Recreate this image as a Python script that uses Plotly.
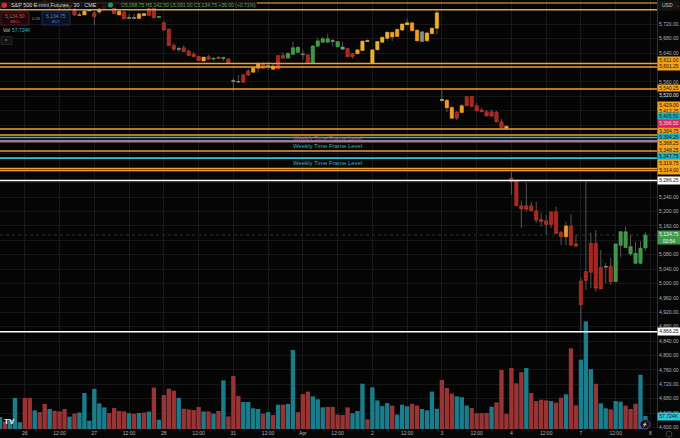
import plotly.graph_objects as go

WIDTH, HEIGHT = 680, 438
PLOT_W, PLOT_H = 657, 429

opens = [
    5766, 5770, 5772, 5768, 5770, 5766, 5768, 5772, 5776, 5786,
    5770, 5768, 5765, 5766, 5772, 5762, 5745, 5757, 5757, 5752,
    5762, 5774, 5776, 5765, 5756, 5754, 5737, 5737, 5749, 5750,
    5764, 5764, 5740, 5724, 5707, 5662, 5651, 5655, 5646, 5637,
    5631, 5629, 5630, 5624, 5627, 5626, 5624, 5562, 5560, 5580,
    5590, 5599, 5610, 5610, 5604, 5604, 5633, 5634, 5626, 5636,
    5642, 5636, 5635, 5612, 5659, 5670, 5670, 5673, 5657, 5651,
    5653, 5639, 5649, 5647, 5673, 5612, 5649, 5670, 5681, 5698,
    5706, 5704, 5719, 5724, 5704, 5672, 5674, 5694, 5709, 5511,
    5509, 5489, 5476, 5494, 5519, 5520, 5494, 5482, 5477, 5477,
    5476, 5449, 5437, 5293, 5285, 5216, 5216, 5216, 5202, 5178,
    5174, 5199, 5199, 5142, 5160, 5160, 5110, 5007, 5033, 5112,
    5112, 5045, 5046, 5048, 5005, 5106, 5100, 5082, 5056, 5056, 5098.75,
]
highs = [
    5774, 5776, 5775, 5773, 5772, 5772, 5776, 5778, 5782, 5787,
    5772, 5774, 5771, 5773, 5774, 5765, 5754, 5760, 5762, 5757,
    5765, 5776, 5779, 5768, 5760, 5757, 5749, 5749, 5751, 5751,
    5768, 5765, 5743, 5729, 5707, 5668, 5658, 5662, 5649, 5643,
    5632, 5629, 5635, 5629, 5632, 5630, 5626, 5571, 5579, 5582,
    5596, 5604, 5615, 5615, 5616, 5612, 5635, 5642, 5643, 5672,
    5660, 5649, 5637, 5662, 5682, 5685, 5693, 5679, 5674, 5672,
    5654, 5640, 5651, 5676, 5678, 5649, 5674, 5685, 5699, 5699,
    5707, 5721, 5737, 5726, 5704, 5701, 5699, 5712, 5760, 5537,
    5512, 5493, 5479, 5499, 5521, 5521, 5501, 5487, 5482, 5482,
    5479, 5457, 5437.5, 5310, 5285, 5230, 5280, 5227, 5227, 5197,
    5190, 5199, 5213, 5146, 5172, 5192, 5135, 5017, 5283, 5141,
    5149, 5093, 5057, 5071, 5110, 5146, 5158, 5135, 5116, 5117, 5142.5,
]
lows = [
    5763, 5768, 5766, 5765, 5764, 5765, 5766, 5770, 5775, 5777,
    5764, 5766, 5763, 5764, 5764, 5743, 5744, 5746, 5757, 5718,
    5749, 5765, 5765, 5749, 5746, 5735, 5735, 5735, 5735, 5743,
    5743, 5737, 5740, 5701, 5660, 5646, 5643, 5643, 5632, 5629,
    5618, 5618, 5621, 5619, 5624, 5618, 5611, 5533, 5558, 5557,
    5576, 5585, 5586, 5596, 5593, 5593, 5596, 5624, 5626, 5635,
    5640, 5621, 5612, 5611, 5657, 5668, 5668, 5658, 5657, 5649,
    5629, 5625, 5637, 5646, 5671, 5611, 5649, 5668, 5674, 5674,
    5685, 5701, 5718, 5701, 5672, 5671, 5672, 5693, 5691, 5505,
    5476, 5458, 5454, 5473, 5493, 5490, 5479, 5476, 5465, 5462,
    5449, 5432, 5430, 5246, 5215, 5154, 5199, 5201, 5169, 5158,
    5135, 5154, 5139, 5107, 5107, 5104, 5100.5, 4865, 4982, 4987,
    4977, 4985, 5001, 4996, 5004, 5073, 5099, 5076, 5054, 5054, 5091,
]
closes = [
    5770, 5773, 5768, 5771, 5766, 5770, 5773, 5776, 5779, 5779,
    5766, 5772, 5769, 5771, 5766, 5746, 5746, 5746, 5760, 5741,
    5754, 5765, 5768, 5749, 5746, 5735, 5738, 5738, 5736, 5744,
    5745, 5738, 5741, 5704, 5661, 5651, 5652, 5644, 5633, 5630,
    5619, 5618, 5623, 5625, 5626, 5627, 5612, 5563, 5561, 5559,
    5579, 5587, 5598, 5597, 5605, 5595, 5596, 5626, 5639, 5655,
    5656, 5637, 5613, 5660, 5674, 5680, 5680, 5674, 5672, 5657,
    5630, 5630, 5638, 5673, 5674, 5649, 5672, 5684, 5698, 5685,
    5686, 5721, 5724, 5702, 5674, 5699, 5696, 5709, 5752, 5509,
    5488, 5459, 5459, 5475, 5494, 5492, 5479, 5477, 5465, 5465,
    5449, 5433, 5431, 5283, 5216, 5207, 5206, 5202, 5176, 5172,
    5164, 5164, 5139, 5130, 5130, 5107, 5104, 4941, 5008, 5031,
    4987, 4985, 5047, 5005, 5110, 5144, 5144, 5103, 5084, 5098, 5134.75,
]
candle_groups = (
    "nyryrrnyrr" "rrrnyrnoyr" "orrrornnoo" "rrgrrrnrrr" "rorgrgrnnr"
    "roorgorrgg" "gnrggggngn" "rroyyyyyyo" "oyyoonyyyo" "oororrrrrr"
    "rrorrrrrrr" "rrrrorrrrr" "rrnrggggggg"
)

volumes = [
    53, 34, 41, 138, 30, 138, 138, 83, 75, 111,
    89, 81, 78, 89, 55, 68, 73, 160, 37, 178,
    114, 96, 71, 93, 80, 78, 70, 67, 71, 73,
    77, 184, 41, 151, 179, 170, 138, 90, 87, 84,
    98, 78, 78, 68, 80, 216, 56, 235, 147, 120,
    120, 92, 89, 68, 75, 62, 108, 108, 111, 351,
    75, 155, 166, 145, 132, 96, 98, 98, 64, 62,
    96, 70, 80, 201, 43, 185, 127, 102, 115, 104,
    64, 108, 101, 112, 104, 89, 83, 166, 90, 218,
    182, 157, 145, 141, 104, 93, 70, 70, 71, 99,
    118, 262, 67, 271, 203, 252, 271, 160, 124, 130,
    127, 124, 117, 139, 154, 358, 105, 308, 478, 266,
    201, 114, 92, 87, 124, 121, 104, 89, 112, 241, 57.724,
]
volume_groups = (
    "trtttrrtrr" "trrrtrtttt" "ttrrrrtrtr" "trtrrrtrrr" "rtrtrtrrrt"
    "tttrtrtrtt" "rrrtttrrrr" "rtttrttttr" "tttrrttttr" "rrtttrrrrt"
    "rrrrrrtrrr" "rtrrtrrttt" "rttrttrrrtt"
)

day_ticks = [5, 12, 19, 26, 33, 40, 47, 54, 61, 68, 75, 82, 89, 96, 103, 110, 117, 124, 131]
day_labels = ["26", "12:00", "27", "12:00", "28", "12:00", "31", "12:00", "Apr", "12:00",
              "2", "12:00", "3", "12:00", "4", "12:00", "7", "12:00", "8"]
price_ticks = [4600 + 40 * k for k in range(30)]
# these ones sit behind a price tag on the scale
hidden_ticks = [5760, 5600, 5520, 5480, 5440, 5400, 5360, 5320, 5280, 5120]
price_labels = ["" if p in hidden_ticks else f"{p:,.2f}" for p in price_ticks]

level_prices = [5779, 5760.5, 5611, 5601.25, 5540.25, 5429, 5412.25, 5405.5, 5396.5,
                5394.75, 5394.25, 5368.25, 5348.25, 5347.75, 5319.75, 5314, 5286.25, 4866.25]
level_colors = ["#b5792c", "#dca35a", "#f0a030", "#f0a030", "#f0a030", "#f0a030", "#f0a030", "#35b9c4", "#8a62b8",
                "#f0a030", "#8a7fc0", "#e89a30", "#f0a030", "#2fc0cc", "#f0a030", "#f0a030", "#ffffff", "#ffffff"]

tag_labels = ["5,611.00", "5,601.25", "5,540.25", "5,520.00", "5,429.00", "5,412.25", "5,405.50", "5,396.50",
              "5,394.75", "5,394.25", "5,368.25", "5,348.25", "5,347.75", "5,319.75", "5,314.00", "5,286.25", "4,866.25"]
tag_rows = [60.5, 66.5, 89, 96, 105, 111, 117, 124, 131, 137.5, 144, 150.5, 157, 163, 170, 180.5, 331]
tag_fill = ["#f5a11c", "#f5a11c", "#f5a11c", "#0b0b0b", "#f5a11c", "#f5a11c", "#23aebc", "#d9245f",
            "#f5a11c", "#23aebc", "#f5a11c", "#f5a11c", "#23aebc", "#f5a11c", "#f5a11c", "#ffffff", "#ffffff"]
tag_text = ["#20150a", "#20150a", "#20150a", "#e8e8e8", "#20150a", "#20150a", "#0c2024", "#f5d8e0",
            "#20150a", "#0c2024", "#20150a", "#20150a", "#0c2024", "#20150a", "#20150a", "#111111", "#111111"]

weekly_label = "Weekly Time Frame Level"
weekly_rows = [137.5, 146, 163]
weekly_colors = ["#b0566a", "#2fb5bf", "#2fb5bf"]

FONT = "Liberation Sans"
# body fill, body outline
CANDLE_COLORS = {
    "r": ("#a8261e", "#bf3a2c"),
    "g": ("#3f9648", "#4ea456"),
    "y": ("#eeb024", "#f2b830"),
    "o": ("#f39c20", "#f0a030"),
    "n": ("#8d8d80", "#8d8d80"),
}


def px(x):
    return x / PLOT_W


def py(y):
    return 1 - y / PLOT_H


def label(text, x, y, color="#cfcfcf", size=5, anchor="left", **kw):
    fig.add_annotation(text=text, xref="paper", yref="paper", x=px(x), y=py(y), xanchor=anchor,
                       yanchor="middle", showarrow=False, borderpad=0,
                       font=dict(family=FONT, size=size, color=color), **kw)


def box(x0, y0, x1, y1, fill, line="rgba(0,0,0,0)", kind="rect"):
    fig.add_shape(type=kind, xref="paper", yref="paper", x0=px(x0), x1=px(x1), y0=py(y0), y1=py(y1),
                  fillcolor=fill, line=dict(color=line, width=0.7), layer="above")


bars = list(range(len(closes)))
fig = go.Figure()

# wicks in grey underneath (flat body at the middle), coloured bodies go on top without whiskers
mids = [(a + b) / 2 for a, b in zip(opens, closes)]
fig.add_trace(go.Candlestick(
    x=bars, open=mids, high=highs, low=lows, close=mids, hoverinfo="skip", showlegend=False,
    increasing=dict(line=dict(color="#6a6a6a", width=0.8), fillcolor="rgba(0,0,0,0)"),
    decreasing=dict(line=dict(color="#6a6a6a", width=0.8), fillcolor="rgba(0,0,0,0)"),
))
for key, (fill, edge) in CANDLE_COLORS.items():
    idx = [i for i in bars if candle_groups[i] == key]
    o = [opens[i] for i in idx]
    c = [closes[i] for i in idx]
    style = dict(line=dict(color=edge, width=0.5), fillcolor=fill)
    fig.add_trace(go.Candlestick(
        x=idx, open=o, close=c, high=[max(a, b) for a, b in zip(o, c)], low=[min(a, b) for a, b in zip(o, c)],
        hoverinfo="skip", showlegend=False, increasing=style, decreasing=style,
    ))

fig.add_trace(go.Bar(
    x=bars, y=volumes, yaxis="y2", hoverinfo="skip", showlegend=False,
    marker=dict(color=["#1b7c8c" if g == "t" else "#983434" for g in volume_groups], line=dict(width=0)),
))

for price, color in zip(level_prices, level_colors):
    fig.add_shape(type="line", xref="paper", yref="y", x0=0, x1=1, y0=price, y1=price,
                  line=dict(color=color, width=1.5), layer="above")
fig.add_shape(type="line", xref="paper", yref="y", x0=0, x1=1, y0=closes[-1], y1=closes[-1],
              line=dict(color="#2f5f35", width=0.6, dash="dot"), layer="below")

fig.update_layout(
    width=WIDTH,
    height=HEIGHT,
    margin=dict(l=0, r=WIDTH - PLOT_W, t=0, b=HEIGHT - PLOT_H),
    paper_bgcolor="#060606",
    plot_bgcolor="#050505",
    boxmode="overlay",
    boxgap=0.32,
    boxgroupgap=0,
    bargap=0.12,
    font=dict(family=FONT, size=5, color="#b4b4b4"),
    xaxis=dict(
        range=[0, PLOT_W / 4.965],
        rangeslider=dict(visible=False),
        tickvals=day_ticks,
        ticktext=day_labels,
        tickfont=dict(size=5, color="#b4b4b4"),
        ticklen=0,
        gridcolor="#181818",
        gridwidth=0.6,
        zeroline=False,
    ),
    yaxis=dict(
        range=[4595.8, 5787.5],
        side="right",
        tickvals=price_ticks,
        ticktext=price_labels,
        tickfont=dict(size=5, color="#b4b4b4"),
        ticklen=0,
        gridcolor="#161616",
        gridwidth=0.6,
        zeroline=False,
        showline=True,
        linecolor="#303030",
        linewidth=1,
    ),
    yaxis2=dict(overlaying="y", range=[0, 1905], visible=False),
)

# price tags on the scale
for text, row, fill, ink in zip(tag_labels, tag_rows, tag_fill, tag_text):
    label(text, PLOT_W + 11.5, row, color=ink, anchor="center", width=22, height=6.5, bgcolor=fill, align="center")
label("5,134.75<br>00:54", PLOT_W + 11.5, 237.5, color="#f0f5f0", anchor="center", width=22, height=13,
      bgcolor="#3f9a4c", align="center")
label("57.724K", PLOT_W + 11.5, 416, color="#0c2024", anchor="center", width=22, height=6.5,
      bgcolor="#2fc8d6", align="center")
box(658, 0.5, 679.5, 10.5, "#141414")
label("USD", 661, 5, color="#c8c8c8")
label("⌄", 675, 4.5, color="#888888")

for row, color in zip(weekly_rows, weekly_colors):
    label(weekly_label, 327, row, color=color, size=6, anchor="center")

# header strip and buttons
box(0, 0, 257, 8, "rgba(12,12,12,0.8)")
box(1.5, 2.5, 7, 8, "#d5282e", kind="circle")
label("S&amp;P 500 E-mini Futures · 30 · CME", 10, 5.2, color="#d8d8d8", size=5.4)
box(108, 2.5, 113, 7.5, "#1f8f7c", kind="circle")
label("O5,098.75 H5,142.50 L5,091.00 C5,134.75 +36.00 (+0.71%)", 120, 5.2, color="#58a85f", size=5)
box(1, 12, 29, 25, "#1a0a0c", line="#7a2230")
label("5,134.50", 15, 15.5, color="#d24b55", size=5, anchor="center")
label("SELL", 15, 21, color="#d24b55", size=4, anchor="center")
label("0.25", 36, 18, color="#9a9a9a", size=4.2, anchor="center")
box(42, 12, 70, 25, "#0a1222", line="#233f78")
label("5,134.75", 56, 15.5, color="#4d82d8", size=5, anchor="center")
label("BUY", 56, 21, color="#4d82d8", size=4, anchor="center")
label("Vol", 2, 30, color="#c8c8c8", size=5)
label("57.724K", 11, 30, color="#2fb5c4", size=5)
box(1, 36.5, 12, 44.5, "#131313", line="#2c2c2c")
label("^", 6.5, 41, color="#bbbbbb", size=5, anchor="center")
label("<b>TV</b>", 3, 421, color="#f2f2f2", size=8)
box(640, 419.5, 650, 429, "#1c1030", line="#7050b8", kind="circle")
label("⚡", 645, 424.5, color="#b090e8", size=4.5, anchor="center")
box(666, 431, 672, 437, "#0a0a0a", line="#555555", kind="circle")

# page default margin would shift the fixed size plot
fig.write_html("out.html", config={"displayModeBar": False}, post_script="document.body.style.margin='0';")
